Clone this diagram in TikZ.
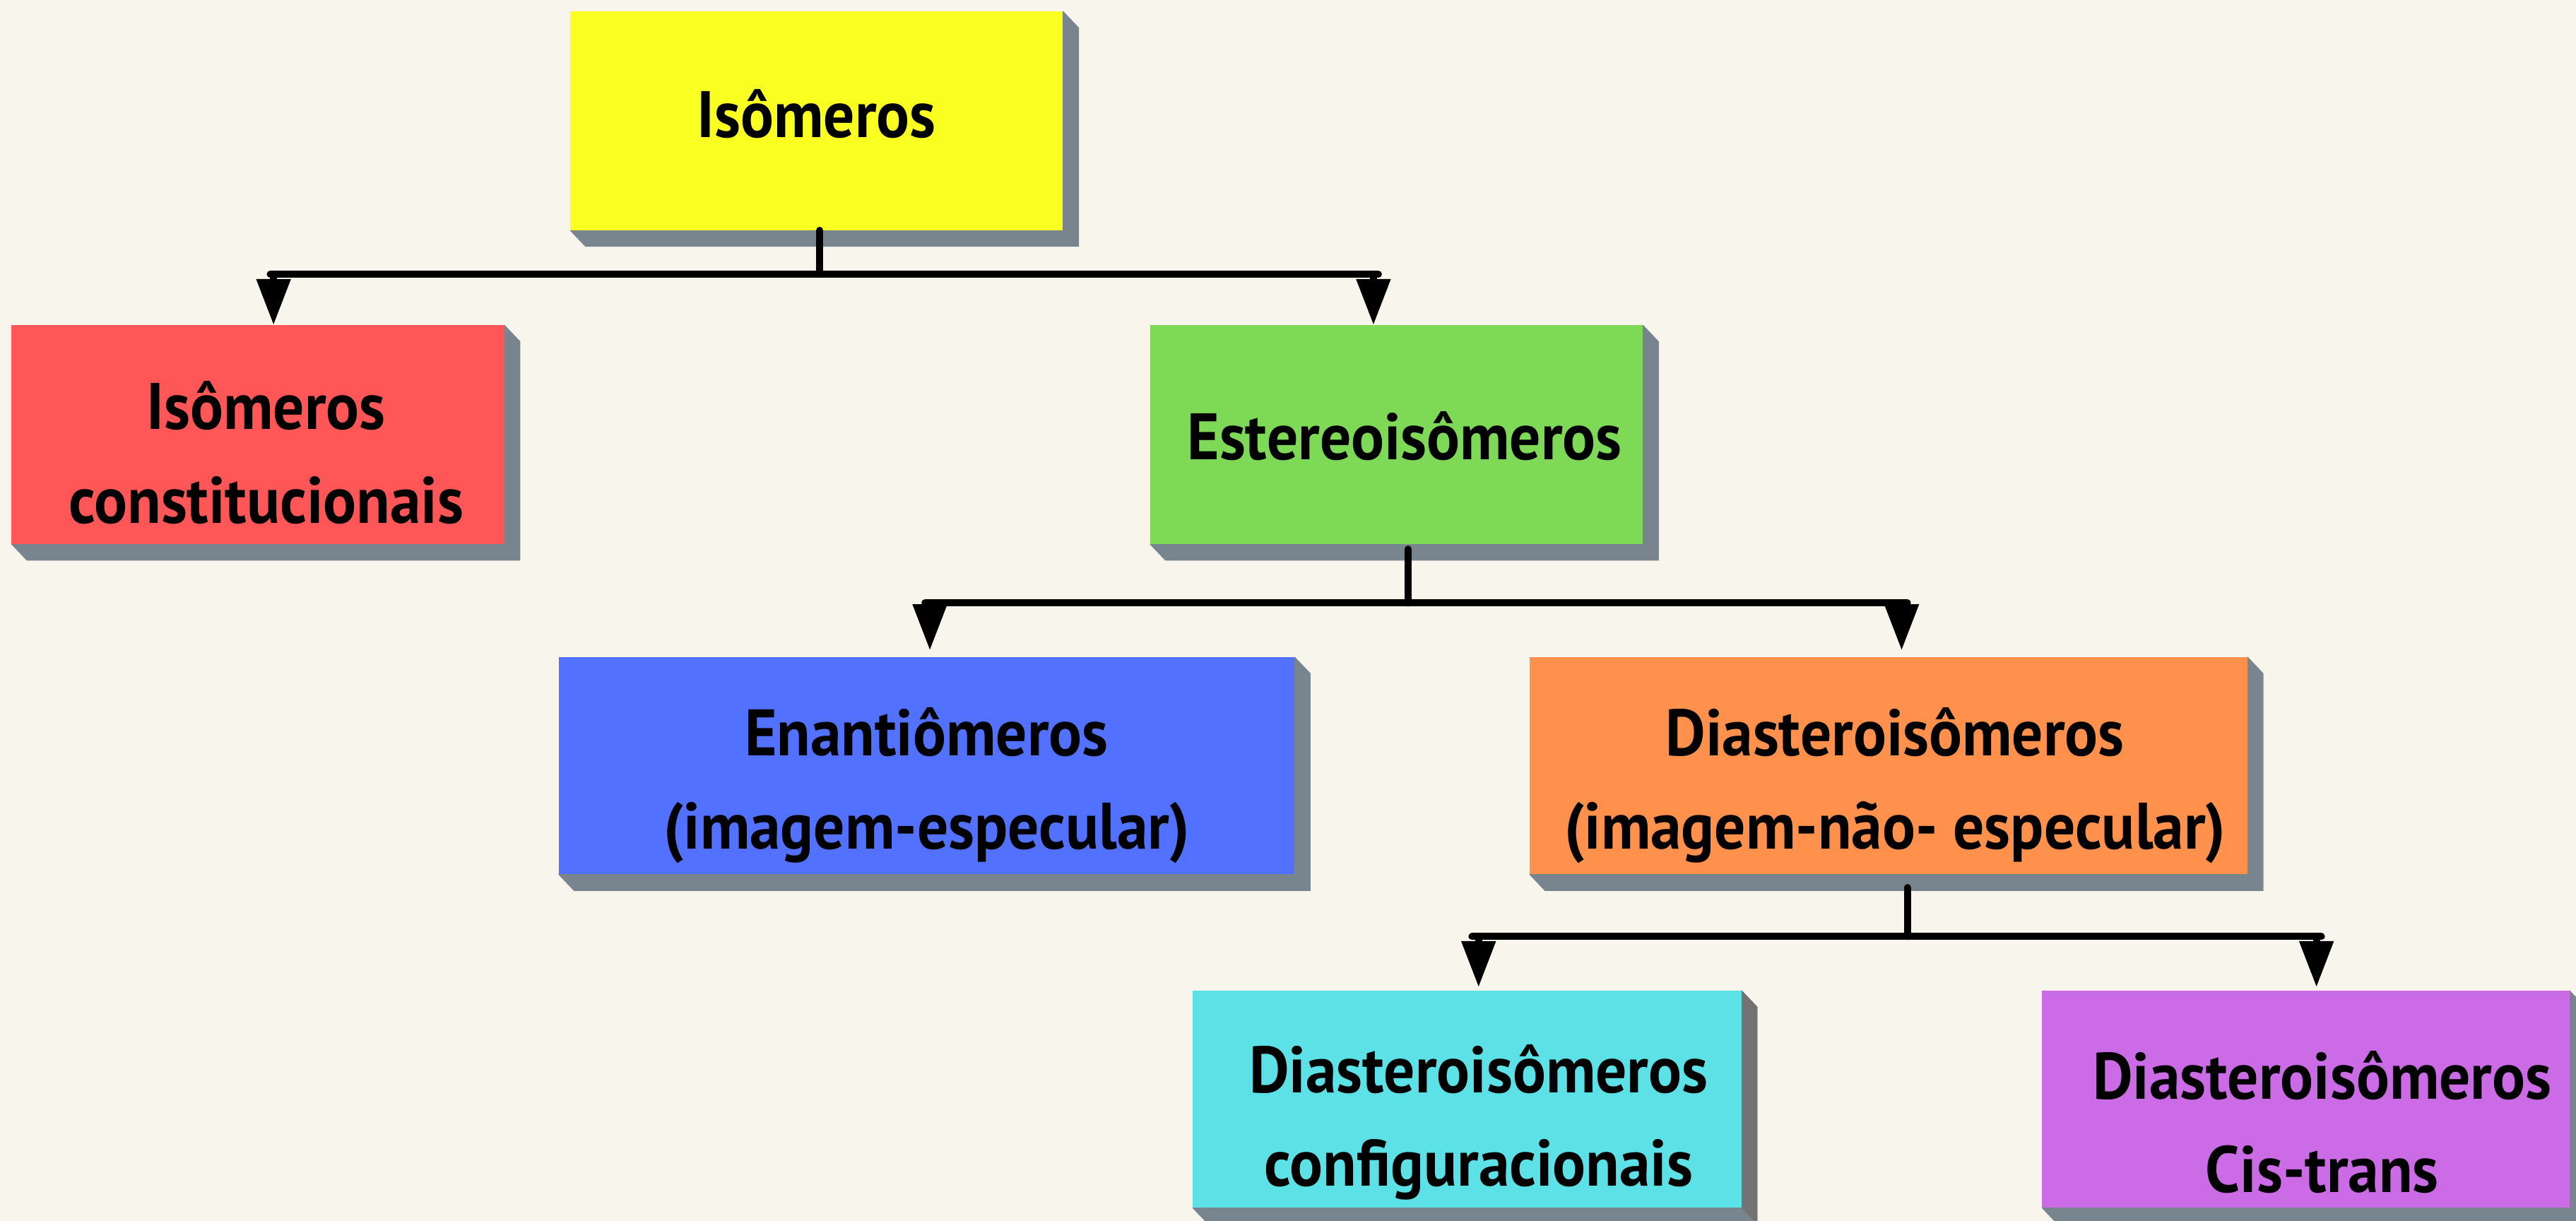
\documentclass[tikz,border=0pt]{standalone}
\usepackage{fontspec}
\setmainfont{PT Sans}[FakeStretch=0.94]
\usetikzlibrary{arrows.meta}
\definecolor{bgcol}{HTML}{F7F5EC}
\definecolor{shade}{HTML}{78858F}
\definecolor{shadegray}{HTML}{737373}
\definecolor{cyel}{HTML}{FAFF22}
\definecolor{cred}{HTML}{FF5757}
\definecolor{cgreen}{HTML}{7ED957}
\definecolor{cblue}{HTML}{5271FF}
\definecolor{corange}{HTML}{FF914D}
\definecolor{ccyan}{HTML}{5CE1E6}
\definecolor{cpurple}{HTML}{CB6CE6}
\pgfdeclarelayer{bglayer}
\pgfdeclarelayer{shdlayer}
\pgfsetlayers{bglayer,shdlayer,main}
\tikzset{
  box/.style={draw=none, inner sep=0pt},
  lbl/.style={inner sep=0pt, align=center, font=\bfseries\fontsize{40}{57}\selectfont},
  conn/.style={line width=4.3pt, line cap=round, black},
  arr/.style={line width=4.3pt, black, -{Triangle[length=28pt,width=20pt]}},
  shd/.style={fill=shade}
}
\newcommand{\boxshadow}[1]{%
  \begin{pgfonlayer}{shdlayer}
    \fill[shd] (#1.north east) -- ([shift={(9.5,10)}]#1.north east) -- ([shift={(9.5,10)}]#1.south east)
      -- ([shift={(9.5,10)}]#1.south west) -- (#1.south west) -- cycle;
  \end{pgfonlayer}}
\begin{document}
\begin{tikzpicture}[x=1pt,y=-1pt]
\begin{pgfonlayer}{bglayer}
\fill[bgcol] (0,0) rectangle (1568,743);
\end{pgfonlayer}
\useasboundingbox (0,0) rectangle (1568,743);

\node[box, fill=cyel, minimum width=300pt, minimum height=133pt] (iso) at (497,73.5) {};
\node[box, fill=cred, minimum width=300pt, minimum height=133pt] (cons) at (157,264.5) {};
\node[box, fill=cgreen, minimum width=300pt, minimum height=133pt] (est) at (850,264.5) {};
\node[box, fill=cblue, minimum width=448pt, minimum height=132pt] (ena) at (564,466) {};
\node[box, fill=corange, minimum width=437pt, minimum height=132pt] (dia) at (1149.5,466) {};
\node[box, fill=ccyan, minimum width=334pt, minimum height=132pt] (conf) at (893,669) {};
\node[box, fill=cpurple, minimum width=321pt, minimum height=132pt] (cis) at (1403.5,669) {};
\boxshadow{iso}\boxshadow{cons}\boxshadow{est}\boxshadow{ena}\boxshadow{dia}\boxshadow{conf}\boxshadow{cis}
\begin{pgfonlayer}{shdlayer}
\fill[shadegray] (conf.north east) -- ([shift={(9.5,10)}]conf.north east) -- ([shift={(9.5,10)}]conf.south east) -- (conf.south east) -- cycle;
\end{pgfonlayer}

\node[lbl] (iso-t) at ([shift={(0,-4)}]iso.center) {Isômeros};
\node[lbl] (cons-t) at ([shift={(5,11)}]cons.center) {Isômeros\\constitucionais};
\node[lbl] (est-t) at ([shift={(5,1)}]est.center) {Estereoisômeros};
\node[lbl] (ena-t) at ([shift={(0,12)}]ena.center) {Enantiômeros\\(imagem-especular)};
\node[lbl] (dia-t) at ([shift={(4,12)}]dia.center) {Diasteroisômeros\\(imagem-não- especular)};
\node[lbl] (conf-t) at ([shift={(7,14)}]conf.center) {Diasteroisômeros\\configuracionais};
\node[lbl] (cis-t) at ([shift={(10,14)}]cis.center) {Diasteroisômeros\\Cis-trans};

% level 1
\coordinate (j1) at (499,167);
\coordinate (l1a) at (164.5,167);
\coordinate (l1b) at (839,167);
\coordinate (a1a) at (166.5,168);
\coordinate (a1b) at (836,168);
\draw[conn] (iso.south -| j1) -- (j1);
\draw[conn] (l1a) -- (l1b);
\draw[arr] (a1a) -- (a1a |- cons.north);
\draw[arr] (a1b) -- (a1b |- est.north);

% level 2
\coordinate (j2) at (857,367);
\coordinate (l2a) at (563,367);
\coordinate (l2b) at (1161,367);
\coordinate (a2a) at (566,367);
\coordinate (a2b) at (1157.5,367);
\draw[conn] ([yshift=-3pt]est.south -| j2) -- (j2);
\draw[conn] (l2a) -- (l2b);
\draw[arr, shorten >=4pt] (a2a) -- (a2a |- ena.north);
\draw[arr, shorten >=4pt] (a2b) -- (a2b |- dia.north);

% level 3
\coordinate (j3) at (1161,570);
\coordinate (l3a) at (896,570);
\coordinate (l3b) at (1413,570);
\coordinate (a3a) at (900,570);
\coordinate (a3b) at (1410,570);
\draw[conn] ([yshift=-8pt]dia.south -| j3) -- (j3);
\draw[conn] (l3a) -- (l3b);
\draw[arr, shorten >=2pt] (a3a) -- (a3a |- conf.north);
\draw[arr, shorten >=2pt] (a3b) -- (a3b |- cis.north);
\end{tikzpicture}
\end{document}
